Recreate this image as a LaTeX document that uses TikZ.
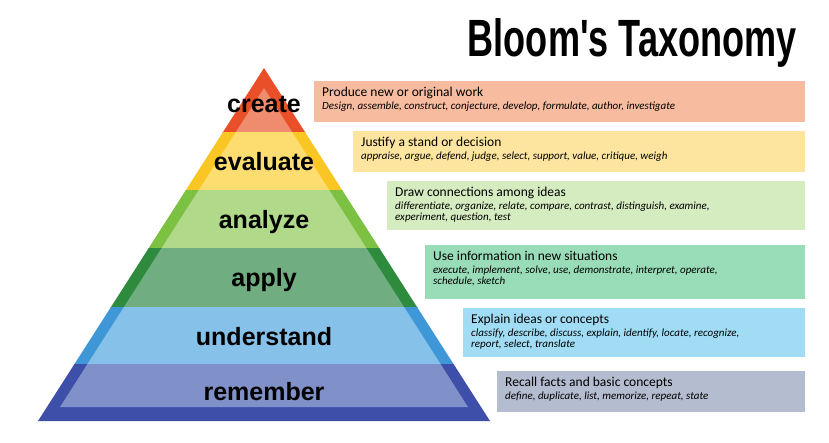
\documentclass[tikz,border=0pt]{standalone}
\usepackage{fontspec}
\setmainfont{Carlito}
\newfontfamily\lbl{Liberation Sans}
\usepackage{graphicx}
\definecolor{cD}{HTML}{E9502A}\definecolor{cL}{HTML}{F08C6E}\definecolor{cB}{HTML}{F7BBA0}
\definecolor{eD}{HTML}{F9C623}\definecolor{eL}{HTML}{FEDD70}\definecolor{eB}{HTML}{FDE5A0}
\definecolor{aD}{HTML}{7DC143}\definecolor{aL}{HTML}{B0D98A}\definecolor{aB}{HTML}{D5EBC0}
\definecolor{pD}{HTML}{2E8B3E}\definecolor{pL}{HTML}{70AD80}\definecolor{pB}{HTML}{99DDB8}
\definecolor{uD}{HTML}{3F97D8}\definecolor{uL}{HTML}{85C1E8}\definecolor{uB}{HTML}{A0DDF5}
\definecolor{rD}{HTML}{3D4FA8}\definecolor{rL}{HTML}{8090C8}\definecolor{rB}{HTML}{B4BCD0}
\tikzset{lvl/.style={font=\lbl\bfseries\fontsize{25}{25}\selectfont,inner sep=0pt,anchor=base},
 boxtxt/.style={anchor=north west,align=left,inner sep=0pt,font=\fontsize{13.5}{13.5}\selectfont}}
\newcommand{\lay}[4]{%
 \begin{scope}\clip (0,#1) rectangle (829,#2);
 \fill[#3] (264,68)--(38,421)--(490,421)--cycle;
 \fill[#4] (264,88)--(60,407)--(468,407)--cycle;
 \end{scope}}
\newcommand{\sub}[1]{{\itshape\fontsize{11}{13.5}\selectfont #1}}
\begin{document}
\begin{tikzpicture}[x=1pt,y=-1pt]
\useasboundingbox[fill=white] (0,0) rectangle (829,443);
\node[anchor=base east,inner sep=0pt] (title) at (797,57) {\resizebox{329pt}{38pt}{\lbl\bfseries Bloom's Taxonomy}};
\lay{60}{133}{cD}{cL}
\lay{133}{191}{eD}{eL}
\lay{191}{249}{aD}{aL}
\lay{249}{307}{pD}{pL}
\lay{307}{364}{uD}{uL}
\lay{364}{422}{rD}{rL}
\node[lvl] (lc) at (264,113) {create};
\node[lvl] (le) at (264,171) {evaluate};
\node[lvl] (la) at (264,229) {analyze};
\node[lvl] (lp) at (264,287) {apply};
\node[lvl] (lu) at (264,345) {understand};
\node[lvl] (lr) at (264,400) {remember};
\fill[cB] (314,81) rectangle (805,122);
\fill[eB] (353,131) rectangle (805,172);
\fill[aB] (387,181) rectangle (805,230);
\fill[pB] (425,245) rectangle (805,299);
\fill[uB] (463,308) rectangle (805,357);
\fill[rB] (497,371) rectangle (805,412);
\node[boxtxt] (tc) at (322,87) {Produce new or original work\\[-1pt]\sub{Design, assemble, construct, conjecture, develop, formulate, author, investigate}};
\node[boxtxt] (te) at (361,137) {Justify a stand or decision\\[-1pt]\sub{appraise, argue, defend, judge, select, support, value, critique, weigh}};
\node[boxtxt] (ta) at (395,187) {Draw connections among ideas\\[-1pt]\sub{differentiate, organize, relate, compare, contrast, distinguish, examine,}\\[-2pt]\sub{experiment, question, test}};
\node[boxtxt] (tp) at (433,251) {Use information in new situations\\[-1pt]\sub{execute, implement, solve, use, demonstrate, interpret, operate,}\\[-2pt]\sub{schedule, sketch}};
\node[boxtxt] (tu) at (471,314) {Explain ideas or concepts\\[-1pt]\sub{classify, describe, discuss, explain, identify, locate, recognize,}\\[-2pt]\sub{report, select, translate}};
\node[boxtxt] (tr) at (505,377) {Recall facts and basic concepts\\[-1pt]\sub{define, duplicate, list, memorize, repeat, state}};
\end{tikzpicture}
\end{document}
